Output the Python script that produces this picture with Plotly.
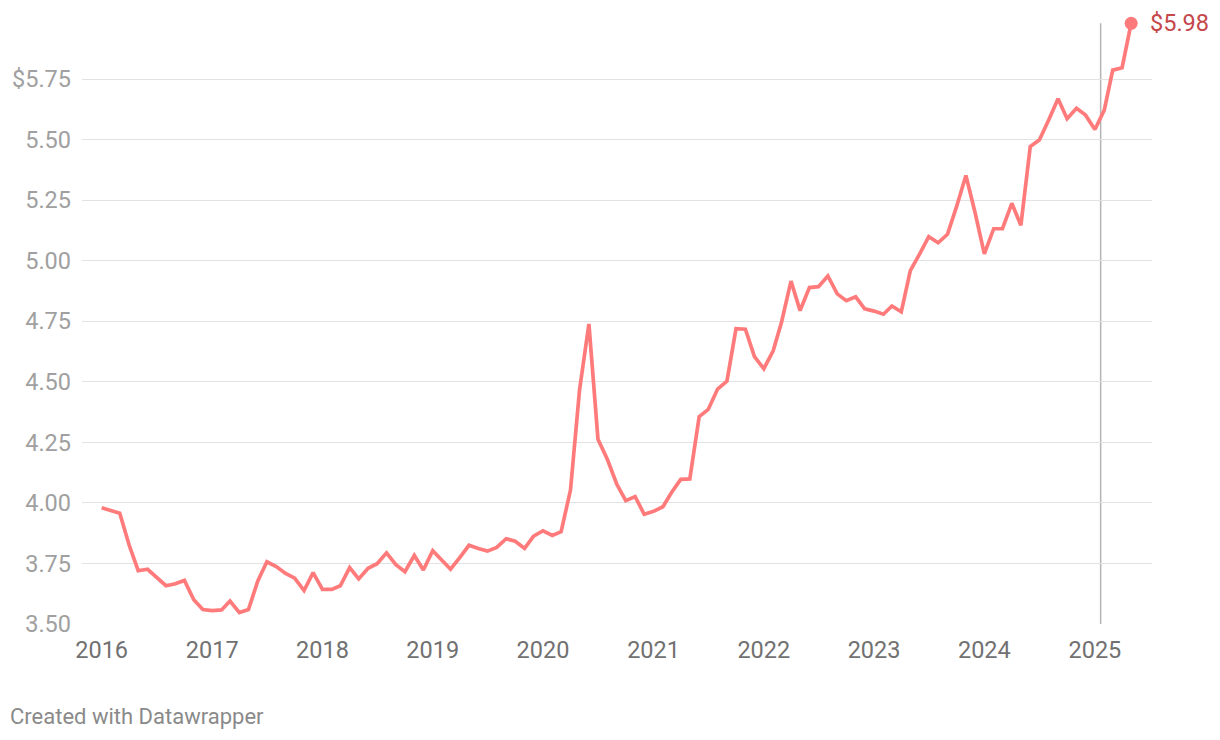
import pandas as pd
import plotly.graph_objects as go

# ---- data ----
start_month = "2016-01-01"
prices = [
    3.98, 3.97, 3.957, 3.826, 3.72, 3.726, 3.69, 3.658, 3.666, 3.68, 3.60, 3.56,
    3.555, 3.558, 3.595, 3.547, 3.56, 3.678, 3.757, 3.737, 3.709, 3.689, 3.638, 3.712,
    3.643, 3.643, 3.658, 3.733, 3.686, 3.730, 3.749, 3.794, 3.745, 3.716, 3.783, 3.723,
    3.803, 3.764, 3.726, 3.775, 3.825, 3.812, 3.801, 3.816, 3.852, 3.842, 3.812, 3.863,
    3.885, 3.866, 3.881, 4.053, 4.466, 4.739, 4.263, 4.18, 4.078, 4.009, 4.026, 3.953,
    3.965, 3.984, 4.042, 4.097, 4.099, 4.356, 4.386, 4.47, 4.503, 4.719, 4.717, 4.604,
    4.554, 4.628, 4.748, 4.916, 4.794, 4.889, 4.893, 4.937, 4.863, 4.835, 4.851, 4.801,
    4.792, 4.779, 4.813, 4.789, 4.959, 5.028, 5.099, 5.074, 5.109, 5.223, 5.352, 5.20,
    5.028, 5.132, 5.132, 5.237, 5.146, 5.471, 5.498, 5.581, 5.669, 5.586, 5.629, 5.601,
    5.542, 5.622, 5.787, 5.797, 5.98,
]
dates = pd.date_range(start_month, periods=len(prices), freq="MS")

y_tick_vals = [3.50, 3.75, 4.00, 4.25, 4.50, 4.75, 5.00, 5.25, 5.50, 5.75]
y_tick_text = ["3.50", "3.75", "4.00", "4.25", "4.50", "4.75", "5.00", "5.25", "5.50", "$5.75"]
x_tick_years = [2016, 2017, 2018, 2019, 2020, 2021, 2022, 2023, 2024, 2025]
marker_date = "2025-01-20"
last_label = "$5.98"

# ---- style ----
LINE = "#ff7b7b"
FONT = "Roboto"
W, H = 1212, 732          # page body adds an 8px margin
ML, MR, MT, MB = 74, 68, 2, 116
plot_w = W - ML - MR
plot_h = H - MT - MB

fig = go.Figure()
fig.add_trace(go.Scatter(
    x=dates, y=prices, mode="lines",
    line=dict(color=LINE, width=3.7),
    hoverinfo="skip", showlegend=False,
))
fig.add_trace(go.Scatter(
    x=[dates[-1]], y=[prices[-1]], mode="markers",
    marker=dict(color=LINE, size=13),
    hoverinfo="skip", showlegend=False,
))

fig.add_shape(type="line", xref="x", yref="y",
              x0=marker_date, x1=marker_date, y0=y_tick_vals[0], y1=prices[-1],
              line=dict(color="#b4b4b4", width=1.5), layer="below")

fig.add_annotation(x=dates[-1], y=prices[-1], xref="x", yref="y",
                   text=last_label, showarrow=False, xanchor="left", yanchor="middle",
                   xshift=17, yshift=0,
                   font=dict(family=FONT, size=23.5, color="#c4474b"))

fig.add_annotation(xref="paper", yref="paper",
                   x=(0 - ML) / plot_w, y=(H - MB - 708) / plot_h,
                   text="Created with Datawrapper", showarrow=False,
                   xanchor="left", yanchor="middle",
                   font=dict(family=FONT, size=22, color="#8a8a8a"))

x_left = pd.Timestamp(start_month) - pd.Timedelta(days=65)
x_right = pd.Timestamp("2025-07-09")

fig.update_layout(
    width=W, height=H,
    margin=dict(l=ML, r=MR, t=MT, b=MB),
    paper_bgcolor="white", plot_bgcolor="white",
    font=dict(family=FONT),
    xaxis=dict(
        range=[x_left, x_right],
        tickvals=[f"{y}-01-01" for y in x_tick_years],
        ticktext=[str(y) for y in x_tick_years],
        showgrid=False, zeroline=False, showline=False, ticks="",
        tickfont=dict(family=FONT, size=23.5, color="#717171"),
        ticklabelstandoff=9,
    ),
    yaxis=dict(
        range=[3.5, 3.5 + plot_h / 242.2],
        tickvals=y_tick_vals, ticktext=y_tick_text,
        showgrid=True, gridcolor="#e2e2e2", gridwidth=1,
        zeroline=False, showline=False, ticks="",
        tickfont=dict(family=FONT, size=23.5, color="#a0a0a0"),
        ticklabelstandoff=10,
    ),
)

fig.write_html("out.html")
